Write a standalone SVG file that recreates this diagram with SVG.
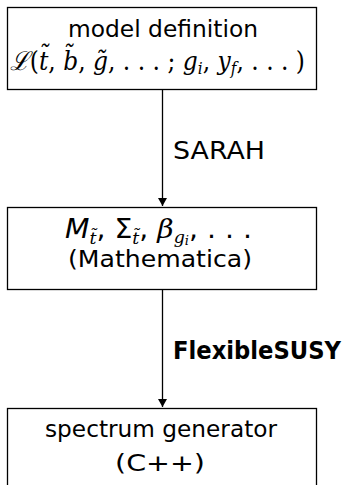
<svg xmlns="http://www.w3.org/2000/svg" width="355" height="485" viewBox="0 0 355 485">
<style>
.box{fill:#fff;stroke:#000;stroke-width:1.3}
.t{font-family:"DejaVu Sans",sans-serif;font-size:23.5px;fill:#000;text-anchor:middle}
.m{font-family:"DejaVu Serif",serif;font-size:26px;fill:#000}
.it{font-style:italic}
.sa{font-family:"DejaVu Sans",sans-serif}
.lbl{font-family:"DejaVu Sans",sans-serif;font-size:25px;fill:#000}
.edge{stroke:#000;stroke-width:1.3;fill:none}
</style>
<defs>
<marker id="ah" markerWidth="8" markerHeight="10" refX="8" refY="5" orient="auto" markerUnits="userSpaceOnUse">
<path d="M0,0.5 L8,5 L0,9.5 Z" fill="#000"/>
</marker>
</defs>
<g id="connectors">
<line class="edge" x1="162.5" y1="89" x2="162.5" y2="206" marker-end="url(#ah)"/>
<text class="lbl" x="173" y="159" textLength="92" lengthAdjust="spacingAndGlyphs">SARAH</text>
<line class="edge" x1="162.5" y1="290" x2="162.5" y2="407" marker-end="url(#ah)"/>
<text class="lbl" x="173" y="359" font-size="22.8" font-weight="bold" textLength="168" lengthAdjust="spacingAndGlyphs">FlexibleSUSY</text>
</g>
<g id="model">
<rect class="box" x="7.5" y="7.5" width="309" height="82"/>
<text class="t" x="163" y="37" textLength="190" lengthAdjust="spacingAndGlyphs">model definition</text>
<text class="m" x="10" y="70" textLength="295" lengthAdjust="spacingAndGlyphs"><tspan class="it">ℒ</tspan>(<tspan class="it">t̃</tspan>, <tspan class="it">b̃</tspan>, <tspan class="it">g̃</tspan>, . . . ; <tspan class="it">g</tspan><tspan class="it" font-size="17" dy="4">i</tspan><tspan dy="-4">, </tspan><tspan class="it">y</tspan><tspan class="it" font-size="17" dy="4">f</tspan><tspan dy="-4">, . . . )</tspan></text>
</g>
<g id="mathematica">
<rect class="box" x="7.5" y="207.5" width="309" height="82"/>
<text class="m" x="65" y="238" font-size="25" textLength="187" lengthAdjust="spacingAndGlyphs"><tspan class="it sa">M</tspan><tspan class="it" font-size="16" dy="6">t̃</tspan><tspan class="sa" dy="-6">, Σ</tspan><tspan class="it" font-size="16" dy="6">t̃</tspan><tspan class="sa" dy="-6">, </tspan><tspan class="it">β</tspan><tspan class="it" font-size="16" dy="5">g</tspan><tspan class="it" font-size="12" dy="2">i</tspan><tspan class="sa" dy="-7">, . . .</tspan></text>
<text class="t" x="160" y="267" textLength="184" lengthAdjust="spacingAndGlyphs">(Mathematica)</text>
</g>
<g id="generator">
<rect class="box" x="7.5" y="408.5" width="309" height="82"/>
<text class="t" x="161" y="437" textLength="232" lengthAdjust="spacingAndGlyphs">spectrum generator</text>
<text class="t" x="160" y="471" font-size="25" textLength="90" lengthAdjust="spacingAndGlyphs">(C++)</text>
</g>
</svg>
